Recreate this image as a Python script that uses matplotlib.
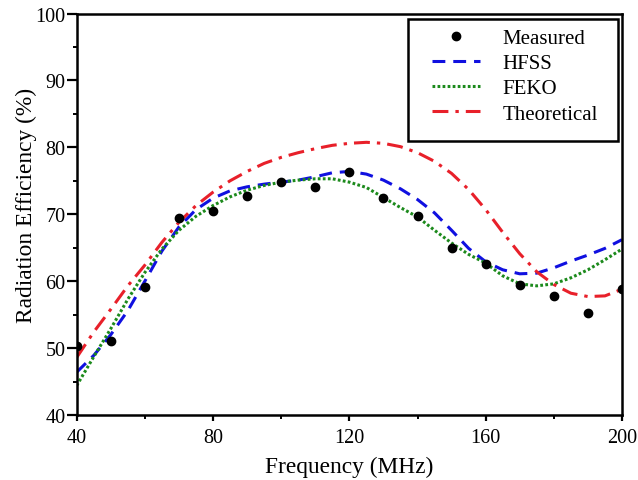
import matplotlib
matplotlib.use("Agg")
import matplotlib.pyplot as plt
from matplotlib.ticker import MultipleLocator
from matplotlib.patches import Rectangle

# Frequencies (MHz)
freq_meas = [40, 50, 60, 70, 80, 90, 100, 110, 120, 130, 140, 150, 160, 170, 180, 190, 200]
eff_meas = [50.3, 51.0, 59.2, 69.4, 70.5, 72.8, 74.8, 74.1, 76.3, 72.4, 69.7, 64.9, 62.6, 59.5, 57.8, 55.2, 58.8]

freq_sim = [40, 45, 50, 55, 60, 65, 70, 75, 80, 85, 90, 95, 100, 105, 110, 115, 120,
            125, 130, 135, 140, 145, 150, 155, 160, 165, 170, 175, 180, 185, 190, 195, 200]
eff_hfss = [46.4, 48.9, 52.0, 55.6, 60.0, 64.5, 68.1, 70.7, 72.4, 73.5, 74.1, 74.5, 74.8,
            75.1, 75.6, 76.2, 76.4, 76.0, 75.1, 73.8, 72.2, 70.2, 67.6, 64.9, 62.9, 61.7,
            61.1, 61.2, 62.0, 63.0, 63.9, 64.9, 66.2]
eff_feko = [44.4, 48.7, 52.9, 57.3, 61.3, 64.8, 67.6, 69.7, 71.3, 72.6, 73.6, 74.3, 74.8,
            75.1, 75.3, 75.3, 74.8, 74.0, 72.5, 71.0, 69.6, 67.6, 65.7, 64.0, 62.7, 60.8,
            59.6, 59.3, 59.6, 60.5, 61.7, 63.2, 64.8]
eff_theory = [48.6, 52.4, 55.8, 59.3, 62.4, 65.8, 68.8, 71.3, 73.3, 75.0, 76.4, 77.6, 78.5,
              79.2, 79.8, 80.3, 80.6, 80.75, 80.6, 80.1, 79.2, 77.9, 76.1, 73.7, 70.7, 67.3,
              64.1, 61.4, 59.5, 58.2, 57.7, 57.8, 58.8]

plt.rcParams['font.family'] = ['Liberation Serif', 'DejaVu Serif']

W, H = 638, 481
fig = plt.figure(figsize=(W / 100, H / 100), dpi=100)
ax = fig.add_axes([76.7 / W, 1 - 416 / H, (622 - 76.7) / W, (416 - 14.5) / H])

ax.plot(freq_meas, eff_meas, 'o', color='black', ms=6, label='Measured', zorder=5)
ax.plot(freq_sim, eff_hfss, color='#1010e0', lw=2.2, dashes=(4.2, 2.6), label='HFSS')
ax.plot(freq_sim, eff_feko, color='#1c8a1c', lw=2.2, dashes=(0.9, 0.75), label='FEKO')
ax.plot(freq_sim, eff_theory, color='#e8202a', lw=2.2, dashes=(5.2, 2.3, 1.1, 2.3),
        label='Theoretical')

ax.set_xlim(40, 200)
ax.set_ylim(40, 100)
ax.xaxis.set_major_locator(MultipleLocator(40))
ax.xaxis.set_minor_locator(MultipleLocator(20))
ax.yaxis.set_major_locator(MultipleLocator(10))
ax.yaxis.set_minor_locator(MultipleLocator(5))
ax.tick_params(which='both', direction='out', labelsize=14.5)
ax.tick_params(axis='x', which='major', length=4.5, width=1.6, pad=5)
ax.tick_params(axis='y', which='major', length=7, width=1.6, pad=1)
ax.tick_params(which='minor', length=3, width=1.4)
for s in ax.spines.values():
    s.set_linewidth(1.8)

ax.set_xlabel('Frequency (MHz)', fontsize=16.8, labelpad=6)
ax.set_ylabel('Radiation Efficiency (%)', fontsize=16.8)
ax.yaxis.set_label_coords(-0.073, 0.524)

# legend box with its own frame
frame = Rectangle((408.3 / W, 1 - 141.7 / H), 210 / W, 121.7 / H, transform=fig.transFigure,
                  facecolor='white', edgecolor='black', lw=1.8, zorder=6)
ax.add_artist(frame)
leg = ax.legend(loc='upper left', bbox_to_anchor=(432 / W, 1 - 29.5 / H),
                bbox_transform=fig.transFigure, fontsize=15, frameon=False,
                handlelength=2.3, handletextpad=1.1, borderpad=0, borderaxespad=0,
                labelspacing=0.27)
leg.set_zorder(7)

fig.savefig('out.png', dpi=100)
